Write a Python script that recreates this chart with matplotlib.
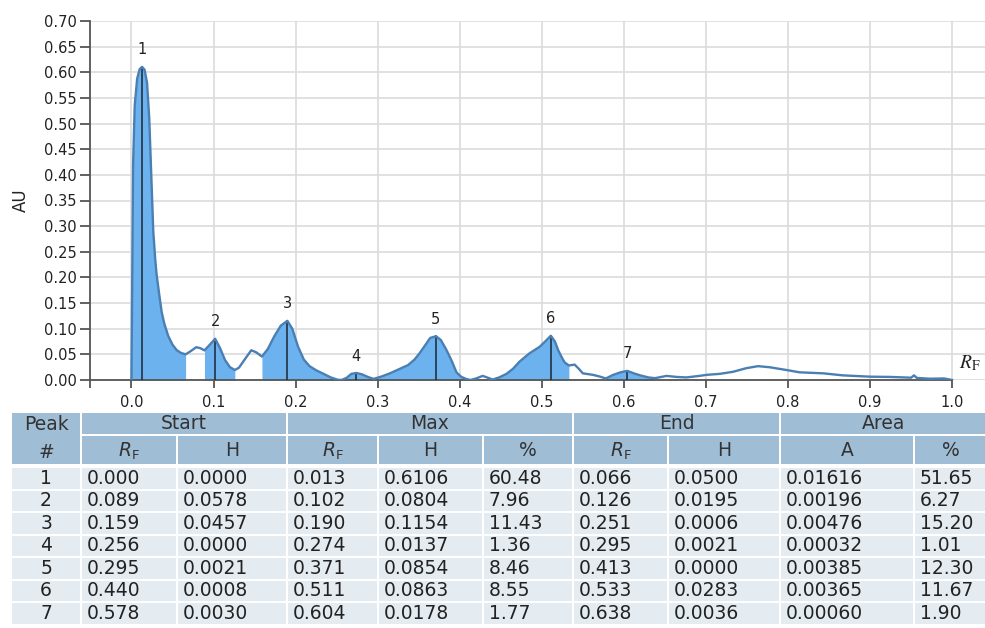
import numpy as np
import matplotlib
matplotlib.use("Agg")
import matplotlib.pyplot as plt
from matplotlib.patches import Rectangle

plt.rcParams['font.family'] = ['DejaVu Sans']
plt.rcParams['mathtext.fontset'] = 'dejavusans'

# densitogram trace (RF, AU)
trace_rf = [0.000, 0.001, 0.002, 0.004, 0.007, 0.010, 0.013, 0.016, 0.019, 0.0217,
            0.0246, 0.0266, 0.029, 0.0307, 0.034, 0.0368, 0.040, 0.0448, 0.050, 0.055,
            0.060, 0.066, 0.072, 0.079, 0.084, 0.089, 0.095, 0.102, 0.108, 0.114,
            0.120, 0.126, 0.131, 0.138, 0.146, 0.152, 0.159, 0.166, 0.174, 0.182,
            0.190, 0.196, 0.203, 0.210, 0.217, 0.225, 0.234, 0.243, 0.251, 0.256,
            0.262, 0.268, 0.274, 0.281, 0.288, 0.295, 0.305, 0.315, 0.326, 0.337,
            0.345, 0.351, 0.358, 0.364, 0.371, 0.377, 0.384, 0.390, 0.396, 0.402,
            0.408, 0.413, 0.420, 0.428, 0.435, 0.440, 0.448, 0.457, 0.465, 0.473,
            0.485, 0.4976, 0.504, 0.511, 0.516, 0.520, 0.525, 0.528, 0.533, 0.540,
            0.545, 0.550, 0.5625, 0.570, 0.578, 0.587, 0.596, 0.604, 0.612, 0.620,
            0.630, 0.638, 0.652, 0.664, 0.676, 0.692, 0.7006, 0.717, 0.733, 0.749,
            0.7635, 0.778, 0.798, 0.814, 0.843, 0.867, 0.8995, 0.924, 0.950, 0.9535,
            0.957, 0.973, 0.990, 1.000]
trace_au = [0.0000, 0.20, 0.42, 0.535, 0.588, 0.606, 0.6106, 0.605, 0.580, 0.51,
            0.38, 0.29, 0.235, 0.205, 0.165, 0.133, 0.110, 0.086, 0.069, 0.0585,
            0.053, 0.0500, 0.056, 0.064, 0.062, 0.0578, 0.068, 0.0804, 0.062, 0.039,
            0.025, 0.0195, 0.024, 0.040, 0.058, 0.054, 0.0457, 0.060, 0.085, 0.106,
            0.1154, 0.100, 0.065, 0.040, 0.027, 0.019, 0.012, 0.005, 0.0006, 0.0000,
            0.004, 0.012, 0.0137, 0.011, 0.006, 0.0021, 0.007, 0.013, 0.021, 0.029,
            0.040, 0.052, 0.068, 0.082, 0.0854, 0.078, 0.058, 0.038, 0.015, 0.006,
            0.002, 0.0000, 0.003, 0.008, 0.004, 0.0008, 0.005, 0.012, 0.022, 0.036,
            0.052, 0.065, 0.075, 0.0863, 0.075, 0.058, 0.042, 0.034, 0.0283, 0.030,
            0.022, 0.013, 0.010, 0.007, 0.0030, 0.010, 0.015, 0.0178, 0.013, 0.009,
            0.005, 0.0036, 0.008, 0.006, 0.005, 0.008, 0.010, 0.012, 0.016, 0.023,
            0.027, 0.0248, 0.0195, 0.015, 0.013, 0.009, 0.0065, 0.006, 0.0045, 0.009,
            0.004, 0.0025, 0.003, 0.0000]

# peak table
peak_no = [1, 2, 3, 4, 5, 6, 7]
start_rf = ["0.000", "0.089", "0.159", "0.256", "0.295", "0.440", "0.578"]
start_h = ["0.0000", "0.0578", "0.0457", "0.0000", "0.0021", "0.0008", "0.0030"]
max_rf = ["0.013", "0.102", "0.190", "0.274", "0.371", "0.511", "0.604"]
max_h = ["0.6106", "0.0804", "0.1154", "0.0137", "0.0854", "0.0863", "0.0178"]
max_pct = ["60.48", "7.96", "11.43", "1.36", "8.46", "8.55", "1.77"]
end_rf = ["0.066", "0.126", "0.251", "0.295", "0.413", "0.533", "0.638"]
end_h = ["0.0500", "0.0195", "0.0006", "0.0021", "0.0000", "0.0283", "0.0036"]
area_a = ["0.01616", "0.00196", "0.00476", "0.00032", "0.00385", "0.00365", "0.00060"]
area_pct = ["51.65", "6.27", "15.20", "1.01", "12.30", "11.67", "1.90"]

x = np.array(trace_rf)
y = np.array(trace_au)

fig = plt.figure(figsize=(9.85, 6.28), dpi=100)
W, H = 985, 628

# plot area in pixels: x 90..985, y 21..380
ax = fig.add_axes([90.4 / W, (H - 380) / H, 894.6 / W, 359 / H])
ax.set_xlim(-0.05, 1.04)
ax.set_ylim(0, 0.70)

line_col = '#4a7fb3'
fill_col = '#6cb2ee'

for s, e in zip(start_rf, end_rf):
    m = (x >= float(s) - 1e-9) & (x <= float(e) + 1e-9)
    ax.fill_between(x, 0, y, where=m, color=fill_col, lw=0, zorder=2)
ax.plot(x, y, color=line_col, lw=1.7, zorder=4, solid_joinstyle='round')

for n, r, h in zip(peak_no, max_rf, max_h):
    ax.plot([float(r), float(r)], [0, float(h)], color='#1c2733', lw=1.1, zorder=3)
    ax.text(float(r), float(h) + 0.033, str(n), ha='center', va='center',
            fontsize=10.5, color='#222222')

ax.set_xticks(np.arange(0, 1.01, 0.1))
ax.set_xticklabels([f"{v:.1f}" for v in np.arange(0, 1.01, 0.1)])
ax.set_xticks([-0.05], minor=True)
ax.set_yticks(np.arange(0, 0.701, 0.05))
ax.set_yticklabels([f"{v:.2f}" for v in np.arange(0, 0.701, 0.05)])
ax.tick_params(axis='both', which='both', direction='out', color='#555555',
               width=1.3, labelsize=10.5, labelcolor='#222222')
ax.tick_params(axis='y', length=7, pad=3)
ax.tick_params(axis='x', which='both', length=6, pad=5)
ax.grid(True, color='#dcdcdc', lw=1.2, zorder=0)
ax.set_axisbelow(True)
for sp in ['top', 'right']:
    ax.spines[sp].set_visible(False)
ax.spines['left'].set_color('#555555')
ax.spines['bottom'].set_color('#555555')
ax.spines['left'].set_linewidth(1.3)
ax.spines['bottom'].set_linewidth(1.3)
ax.spines['bottom'].set_bounds(-0.05, 1.0)
ax.set_ylabel("AU", fontsize=12, labelpad=10, color='#222222')
ax.text(1.022, 0.032, r'$R_{\mathrm{F}}$', fontsize=14, ha='center', va='center',
        math_fontfamily='stix', color='#222222')

# table drawn in pixel coordinates
tb = fig.add_axes([0, 0, 1, 1], zorder=-1)
tb.set_xlim(0, W)
tb.set_ylim(H, 0)
tb.axis('off')

head_col = '#9fbdd4'
row_col = '#e4ecf2'
edges = [11, 81, 177, 287, 378, 483, 573, 668, 780, 914, 987]
gap = 1.0
fs = 13.5


def cell(x0, x1, y0, y1, color):
    tb.add_patch(Rectangle((x0 + gap, y0 + gap), x1 - x0 - 2 * gap, y1 - y0 - 2 * gap,
                           facecolor=color, edgecolor='none'))


h1_top, h1_bot, h2_bot = 412, 435, 465
cell(edges[0], edges[1], h1_top, h2_bot, head_col)
tb.text((edges[0] + edges[1]) / 2, 425, "Peak", ha='center', va='center', fontsize=fs, color='#333333')
tb.text((edges[0] + edges[1]) / 2, 452, "#", ha='center', va='center', fontsize=fs, color='#333333')

groups = [("Start", 1, 3), ("Max", 3, 6), ("End", 6, 8), ("Area", 8, 10)]
for name, a, b in groups:
    cell(edges[a], edges[b], h1_top, h1_bot, head_col)
    tb.text((edges[a] + edges[b]) / 2, (h1_top + h1_bot) / 2, name, ha='center', va='center',
            fontsize=fs, color='#333333')

rf_lab = r'$R_{\mathrm{F}}$'
sub_heads = [rf_lab, "H", rf_lab, "H", "%", rf_lab, "H", "A", "%"]
for i, t in enumerate(sub_heads):
    cell(edges[i + 1], edges[i + 2], h1_bot, h2_bot, head_col)
    tb.text((edges[i + 1] + edges[i + 2]) / 2, (h1_bot + h2_bot) / 2 + 1, t, ha='center',
            va='center', fontsize=fs, color='#333333')

columns = [start_rf, start_h, max_rf, max_h, max_pct, end_rf, end_h, area_a, area_pct]
row_h = 22.5
for k, n in enumerate(peak_no):
    y0 = 467 + row_h * k
    yc = y0 + row_h / 2
    cell(edges[0], edges[1], y0, y0 + row_h, row_col)
    tb.text((edges[0] + edges[1]) / 2, yc, str(n), ha='center', va='center', fontsize=fs,
            color='#222222')
    for j, col in enumerate(columns):
        cell(edges[j + 1], edges[j + 2], y0, y0 + row_h, row_col)
        tb.text(edges[j + 1] + 6, yc, col[k], ha='left', va='center', fontsize=fs,
                color='#222222')

fig.savefig("out.png", dpi=100)
